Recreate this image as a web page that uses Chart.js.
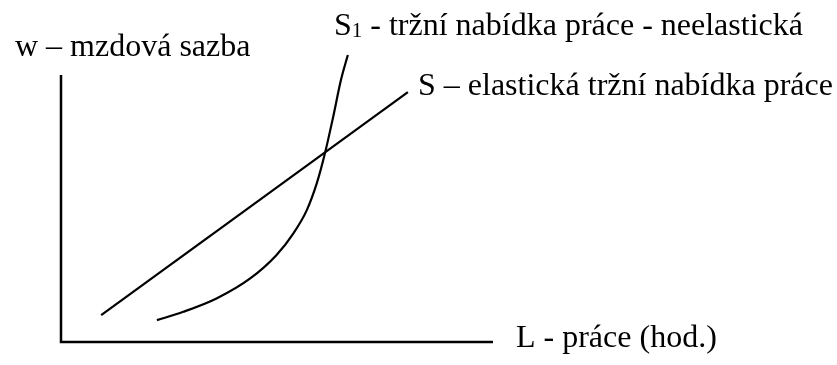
<!DOCTYPE html>
<html>
<head>
<meta charset="utf-8">
<script src="https://cdn.jsdelivr.net/npm/chart.js@4.4.1/dist/chart.umd.min.js"></script>
<style>
  html, body { margin: 0; padding: 0; background: #fff; }
  #wrap { width: 837px; height: 365px; position: relative; }
</style>
</head>
<body>
<div id="wrap"><canvas id="c"></canvas></div>
<script>
// axis frame: L on x (0..100), w on y (0..100)
const axisX = [0, 0, 100];
const axisY = [100, 0, 0];

// S - elastic supply (straight line)
const elasticX = [9.3, 80.3];
const elasticY = [10.1, 93.6];

// S1 - inelastic supply (steep curve)
const inelasticX = [22.2, 28.3, 36.0, 43.8, 49.9, 53.8, 56.9, 59.2, 61.1, 63.0, 64.8, 66.4];
const inelasticY = [8.2, 11.3, 16.3, 23.8, 32.6, 40.7, 49.4, 59.4, 70.7, 84.3, 98.1, 107.5];

const toPts = (xs, ys) => xs.map((x, i) => ({ x: x, y: ys[i] }));

const FONT = '32px "Liberation Serif", "Times New Roman", serif';
const SUB = '21px "Liberation Serif", "Times New Roman", serif';

// text labels, drawn in canvas pixels
const labels = [
  { parts: [['w – mzdová sazba', FONT, 0]], x: 15, y: 56 },
  { parts: [['S', FONT, 0], ['1', SUB, 2], [' - tržní nabídka práce - neelastická', FONT, 0]], x: 334, y: 35 },
  { parts: [['S – elastická tržní nabídka práce', FONT, 0]], x: 418, y: 95 },
  { parts: [['L - práce (hod.)', FONT, 0]], x: 516, y: 347 }
];

const textPlugin = {
  id: 'texts',
  afterDatasetsDraw(chart) {
    const ctx = chart.ctx;
    ctx.save();
    ctx.fillStyle = '#000';
    ctx.textBaseline = 'alphabetic';
    labels.forEach(l => {
      let x = l.x;
      l.parts.forEach(p => {
        ctx.font = p[1];
        ctx.fillText(p[0], x, l.y + p[2]);
        x += ctx.measureText(p[0]).width;
      });
    });
    ctx.restore();
  }
};

const line = (data, extra) => Object.assign({
  data: data,
  borderColor: '#000',
  borderWidth: 2.2,
  pointRadius: 0,
  fill: false,
  showLine: true,
  clip: false
}, extra || {});

new Chart(document.getElementById('c'), {
  type: 'scatter',
  data: {
    datasets: [
      line(toPts(axisX, axisY), { borderWidth: 2.5, tension: 0, borderJoinStyle: 'miter' }),
      line(toPts(elasticX, elasticY), { tension: 0 }),
      line(toPts(inelasticX, inelasticY), { cubicInterpolationMode: 'monotone' })
    ]
  },
  options: {
    responsive: true,
    maintainAspectRatio: false,
    animation: false,
    layout: { padding: { left: 61, right: 344, top: 75, bottom: 23 } },
    plugins: { legend: { display: false }, tooltip: { enabled: false } },
    scales: {
      x: { type: 'linear', min: 0, max: 100, display: false },
      y: { type: 'linear', min: 0, max: 100, display: false }
    }
  },
  plugins: [textPlugin]
});
</script>
</body>
</html>
